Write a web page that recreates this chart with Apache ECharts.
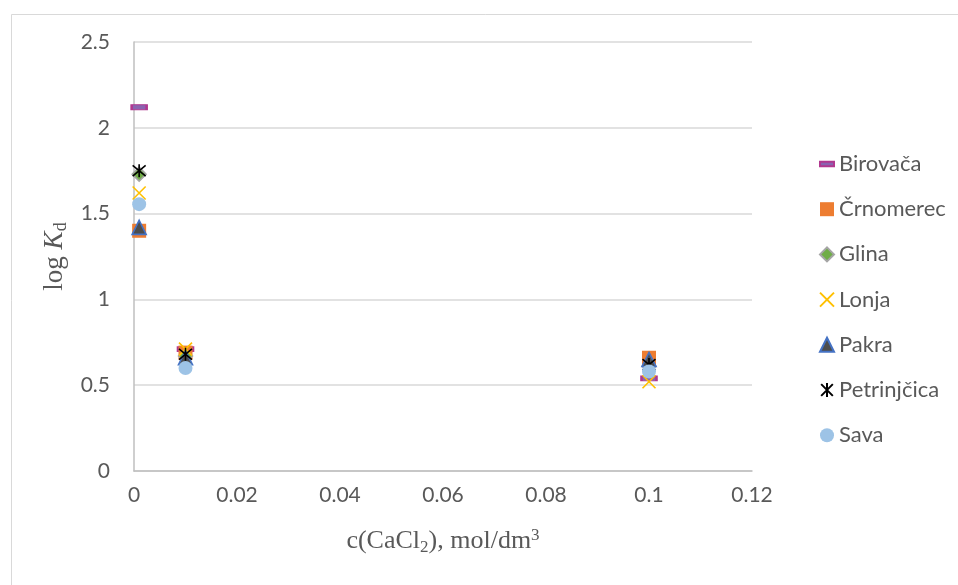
<!DOCTYPE html>
<html>
<head>
<meta charset="utf-8">
<script src="https://cdn.jsdelivr.net/npm/echarts@6/dist/echarts.min.js"></script>
<style>html,body{margin:0;padding:0;background:#fff}#c{width:958px;height:585px}</style>
</head>
<body>
<div id="c"></div>
<script>
const xValues = [0.001, 0.01, 0.1];
const seriesNames = ['Birovača', 'Črnomerec', 'Glina', 'Lonja', 'Pakra', 'Petrinjčica', 'Sava'];
const birovaca = [2.12, 0.71, 0.54];
const crnomerec = [1.40, 0.69, 0.66];
const glina = [1.73, 0.67, 0.61];
const lonja = [1.62, 0.71, 0.52];
const pakra = [1.42, 0.66, 0.65];
const petrinjcica = [1.75, 0.68, 0.62];
const sava = [1.555, 0.60, 0.58];
const yTicks = { min: 0, max: 2.5, interval: 0.5 };
const xTicks = { min: 0, max: 0.12, interval: 0.02 };

const pair = arr => xValues.map((x, i) => [x, arr[i]]);
const dashIcon = 'path://M0,0H16V5H0Z';
const styles = [
  { symbol: 'rect', symbolSize: [15, 5], itemStyle: { opacity: 1, color: '#8a63b0', borderColor: '#b1388f', borderWidth: 1.5 } },
  { symbol: 'rect', symbolSize: 14, itemStyle: { opacity: 1, color: '#ed7d31' } },
  { symbol: 'diamond', symbolSize: 14, itemStyle: { opacity: 1, color: '#70ad47', borderColor: '#a5a5a5', borderWidth: 1.5 } },
  { symbol: 'path://M0,0L10,10M10,0L0,10', symbolSize: 13, itemStyle: { opacity: 1, color: 'transparent', borderColor: '#ffc000', borderWidth: 1.6 } },
  { symbol: 'triangle', symbolSize: 14, itemStyle: { opacity: 1, color: '#4d4d4d', borderColor: '#4472c4', borderWidth: 1.6 } },
  { symbol: 'path://M0,0L10,10M10,0L0,10M5,-1L5,11', symbolSize: 13, itemStyle: { opacity: 1, color: 'transparent', borderColor: '#000000', borderWidth: 1.6 } },
  { symbol: 'circle', symbolSize: 14, itemStyle: { opacity: 1, color: '#9dc3e6' } }
];
const allData = [birovaca, crnomerec, glina, lonja, pakra, petrinjcica, sava];

const chart = echarts.init(document.getElementById('c'), null, { renderer: 'canvas' });
const fmt = v => String(+v.toFixed(3));
const serif = 'Liberation Serif';
chart.setOption({
  animation: false,
  backgroundColor: '#ffffff',
  graphic: [{
    type: 'rect', left: 9, top: 12, shape: { width: 1000, height: 1000 },
    style: { fill: 'none', stroke: '#d9d9d9', lineWidth: 1 }, silent: true, z: -1
  }],
  grid: { left: 134, right: 206, top: 42, bottom: 114, containLabel: false },
  legend: {
    orient: 'vertical', left: 814, top: 148, itemWidth: 14, itemHeight: 14, itemGap: 23.2,
    symbolKeepAspect: true,
    textStyle: { fontFamily: 'Lato', fontSize: 22, color: '#595959' },
    data: seriesNames.map((n, k) => k === 0 ? { name: n, icon: dashIcon } : n)
  },
  xAxis: {
    type: 'value', min: xTicks.min, max: xTicks.max, interval: xTicks.interval,
    axisLine: { show: true, onZero: false, lineStyle: { color: '#bfbfbf', width: 1.5 } },
    axisTick: { show: false },
    splitLine: { show: false },
    axisLabel: { formatter: fmt, margin: 14, fontFamily: 'Lato', fontSize: 21, color: '#595959' },
    name: 'c(CaCl{s|2}), mol/dm{p|3}',
    nameLocation: 'middle', nameGap: 56,
    nameTextStyle: {
      fontFamily: serif, fontSize: 26, color: '#595959',
      rich: {
        s: { fontFamily: serif, fontSize: 17, color: '#595959', verticalAlign: 'bottom', padding: [12, 0, 0, 0] },
        p: { fontFamily: serif, fontSize: 17, color: '#595959', verticalAlign: 'top', padding: [0, 0, 10, 0] }
      }
    }
  },
  yAxis: {
    type: 'value', min: yTicks.min, max: yTicks.max, interval: yTicks.interval,
    axisLine: { show: true, onZero: false, lineStyle: { color: '#bfbfbf', width: 1.5 } },
    axisTick: { show: false },
    splitLine: { show: true, lineStyle: { color: '#d9d9d9', width: 1.5 } },
    axisLabel: { formatter: fmt, margin: 24, fontFamily: 'Lato', fontSize: 21, color: '#595959' },
    name: 'log {i|K}{s|d}',
    nameLocation: 'middle', nameGap: 56, nameRotate: 90,
    nameTextStyle: {
      fontFamily: serif, fontSize: 27, color: '#595959',
      rich: {
        i: { fontFamily: serif, fontSize: 27, fontStyle: 'italic', color: '#595959' },
        s: { fontFamily: serif, fontSize: 18, color: '#595959', verticalAlign: 'bottom', padding: [12, 0, 0, 0] }
      }
    }
  },
  series: seriesNames.map((name, k) => Object.assign({
    name: name, type: 'scatter', data: pair(allData[k])
  }, styles[k]))
});
</script>
</body>
</html>
